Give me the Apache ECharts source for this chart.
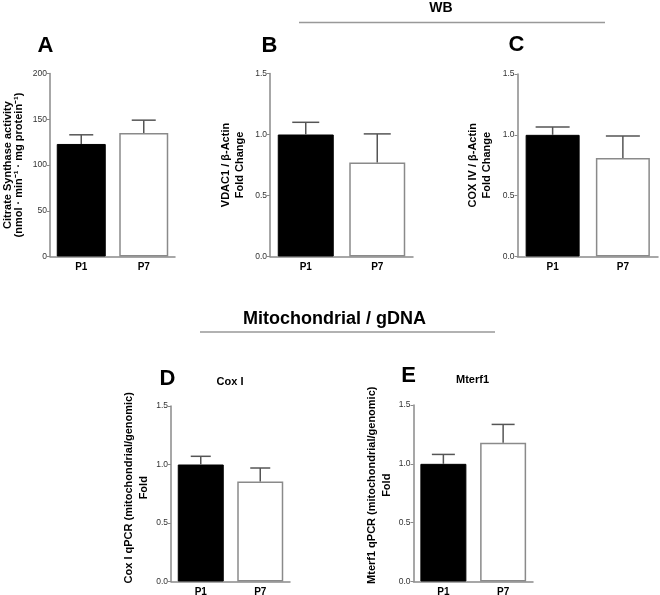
<!DOCTYPE html>
<html>
<head>
<meta charset="utf-8">
<script src="https://cdn.jsdelivr.net/npm/echarts@6/dist/echarts.min.js"></script>
<style>
  html, body { margin: 0; padding: 0; background: #fff; }
  #chart { width: 660px; height: 595px; }
</style>
</head>
<body>
<div id="chart"></div>
<script>
// data
const categories = ['P1', 'P7']
const citrateMean = [123, 135]
const citrateErr = [10, 14]
const vdac1Mean = [1.0, 0.77]
const vdac1Err = [0.10, 0.235]
const cox4Mean = [1.0, 0.81]
const cox4Err = [0.065, 0.18]
const cox1Mean = [1.0, 0.855]
const cox1Err = [0.07, 0.115]
const mterf1Mean = [1.0, 1.18]
const mterf1Err = [0.08, 0.155]
const citrateTicks = [0, 50, 100, 150, 200]
const foldTicks = [0, 0.5, 1.0, 1.5]

const FONT = 'Liberation Sans, Arial, sans-serif'
const AXIS_GREY = '#8a8a8a'

// layout of the five panels (pixels)
const panels = [
  { mean: citrateMean, err: citrateErr, ticks: citrateTicks, digits: 0,
    left: 50, right: 175, top: 73.5, bottom: 256.5, barW: 49, capW: 24,
    name: 'Citrate Synthase activity\n(nmol · min⁻¹ · mg protein⁻¹)', nameGap: 26, nameLH: 11, shift: 0 },
  { mean: vdac1Mean, err: vdac1Err, ticks: foldTicks, digits: 1,
    left: 270, right: 413, top: 73.5, bottom: 256.5, barW: 56, capW: 27,
    name: 'VDAC1 / β-Actin\nFold Change', nameGap: 23, nameLH: 14, shift: 0 },
  { mean: cox4Mean, err: cox4Err, ticks: foldTicks, digits: 1,
    left: 517.5, right: 658, top: 74, bottom: 256.5, barW: 54, capW: 34,
    name: 'COX IV / β-Actin\nFold Change', nameGap: 24, nameLH: 14, shift: 0 },
  { mean: cox1Mean, err: cox1Err, ticks: foldTicks, digits: 1,
    left: 171, right: 290, top: 406, bottom: 581.5, barW: 46, capW: 20,
    name: 'Cox I qPCR (mitochondrial/genomic)\nFold', nameGap: 20, nameLH: 15, shift: 12 },
  { mean: mterf1Mean, err: mterf1Err, ticks: foldTicks, digits: 1,
    left: 413.5, right: 533, top: 405, bottom: 581.5, barW: 46, capW: 23,
    name: 'Mterf1 qPCR (mitochondrial/genomic)\nFold', nameGap: 19, nameLH: 15, shift: 16 }
]

const W = 660, H = 595
const grid = [], xAxis = [], yAxis = [], series = []

panels.forEach((p, i) => {
  const t = p.ticks
  grid.push({
    left: p.left, width: p.right - p.left, top: p.top, height: p.bottom - p.top,
    containLabel: false, outerBoundsMode: 'none'
  })
  xAxis.push({
    type: 'category', gridIndex: i, data: categories,
    axisLine: { lineStyle: { color: AXIS_GREY, width: 1.5 } },
    axisTick: { show: false },
    axisLabel: { color: '#000', fontFamily: FONT, fontWeight: 'bold', fontSize: 10, margin: 6 }
  })
  yAxis.push({
    type: 'value', gridIndex: i, min: t[0], max: t[t.length - 1], interval: t[1] - t[0],
    name: p.name, nameLocation: 'middle', nameRotate: 90, nameGap: p.nameGap,
    nameTextStyle: {
      color: '#000', fontFamily: FONT, fontWeight: 'bold', fontSize: 11, lineHeight: p.nameLH,
      padding: [0, 0, 0, p.shift]
    },
    axisLine: { show: true, lineStyle: { color: AXIS_GREY, width: 1.5 } },
    axisTick: { show: true, length: 3, lineStyle: { color: AXIS_GREY, width: 1 } },
    splitLine: { show: false },
    axisLabel: {
      color: '#333', fontFamily: FONT, fontSize: 8.5, margin: 3,
      formatter: v => v.toFixed(p.digits)
    }
  })
  series.push({
    type: 'bar', xAxisIndex: i, yAxisIndex: i, barWidth: p.barW, silent: true,
    data: p.mean.map((v, k) => ({
      value: v,
      itemStyle: k === 0
        ? { color: '#000', borderColor: '#000', borderWidth: 1 }
        : { color: '#fff', borderColor: AXIS_GREY, borderWidth: 1.5 }
    }))
  })
  // upper error bar with cap
  series.push({
    type: 'custom', xAxisIndex: i, yAxisIndex: i, z: 5, silent: true,
    data: p.mean.map((v, k) => [k, v, p.err[k]]),
    renderItem: (params, api) => {
      const base = api.coord([api.value(0), api.value(1)])
      const top = api.coord([api.value(0), api.value(1) + api.value(2)])
      const h = p.capW / 2
      const style = { stroke: '#555', lineWidth: 1.5 }
      return {
        type: 'group',
        children: [
          { type: 'line', shape: { x1: base[0], y1: base[1], x2: top[0], y2: top[1] }, style },
          { type: 'line', shape: { x1: top[0] - h, y1: top[1], x2: top[0] + h, y2: top[1] }, style }
        ]
      }
    }
  })
})

function label(text, x, y, size) {
  return {
    type: 'text', x: x, y: y, silent: true,
    style: { text: text, fill: '#000', font: 'bold ' + size + 'px ' + FONT, textAlign: 'center', textVerticalAlign: 'middle' }
  }
}

const graphic = [
  label('A', 45.5, 45.5, 22),
  label('B', 269.5, 45.5, 22),
  label('C', 516.5, 45, 22),
  label('D', 167.5, 378.5, 22),
  label('E', 408.5, 376, 22),
  label('WB', 441, 8.5, 14),
  label('Mitochondrial / gDNA', 334.5, 319, 18),
  label('Cox I', 230, 382, 11),
  label('Mterf1', 472.5, 380, 11),
  { type: 'line', silent: true, shape: { x1: 299, y1: 22.5, x2: 605, y2: 22.5 }, style: { stroke: '#999', lineWidth: 1.5 } },
  { type: 'line', silent: true, shape: { x1: 200, y1: 332, x2: 495, y2: 332 }, style: { stroke: '#999', lineWidth: 1.5 } }
]

const chart = echarts.init(document.getElementById('chart'), null, { renderer: 'canvas', width: W, height: H })
chart.setOption({
  animation: false,
  backgroundColor: '#fff',
  grid: grid,
  xAxis: xAxis,
  yAxis: yAxis,
  series: series,
  graphic: graphic
})
</script>
</body>
</html>
